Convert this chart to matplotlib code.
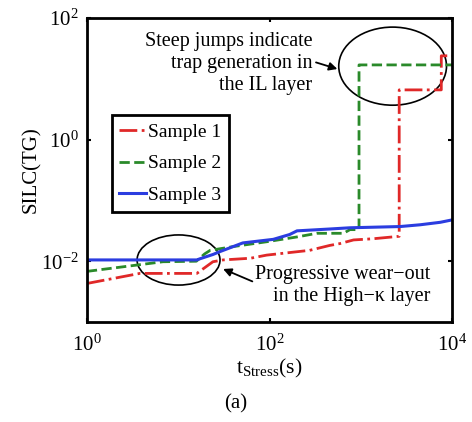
import matplotlib
matplotlib.use("Agg")
import matplotlib.pyplot as plt
from matplotlib.patches import Ellipse

plt.rcParams['font.family'] = ['Liberation Serif', 'DejaVu Serif']
plt.rcParams['mathtext.fontset'] = 'custom'
plt.rcParams['mathtext.rm'] = 'Liberation Serif'
plt.rcParams['mathtext.it'] = 'Liberation Serif:italic'

# Sample 1 (red, dash-dot)
s1_t = [1, 3.8, 16, 24, 31, 62, 93, 182, 275, 457, 589, 832, 1350, 2630, 2630, 7600, 7600, 10000]
s1_v = [0.0043, 0.0063, 0.0063, 0.0098, 0.0105, 0.0112, 0.0126, 0.0141, 0.0151, 0.0182,
        0.0195, 0.0224, 0.0234, 0.0257, 6.6, 6.6, 24, 24]
# Sample 2 (green, dashed)
s2_t = [1, 6.8, 15.8, 19.5, 22.4, 40, 93, 200, 331, 646, 760, 955, 955, 10000]
s2_v = [0.0068, 0.0098, 0.0100, 0.0132, 0.0151, 0.0174, 0.0209, 0.0251, 0.0288, 0.0288,
        0.0331, 0.0331, 17, 17]
# Sample 3 (blue, solid)
s3_t = [1, 16, 17.4, 24, 29, 51, 110, 166, 200, 457, 759, 2690, 4470, 7410, 10000]
s3_v = [0.0105, 0.0105, 0.0110, 0.0129, 0.0145, 0.0200, 0.0229, 0.0275, 0.0316, 0.0339,
        0.0355, 0.0372, 0.0398, 0.0437, 0.0479]

labels = ['Sample 1', 'Sample 2', 'Sample 3']

fig = plt.figure(figsize=(4.72, 4.22), dpi=100)
ax = fig.add_axes([0.184, 0.237, 0.774, 0.72])

ax.plot(s1_t, s1_v, color='#e02828', ls='-.', lw=2, label=labels[0])
ax.plot(s2_t, s2_v, color='#2a8a2a', ls='--', lw=2, label=labels[1])
ax.plot(s3_t, s3_v, color='#2b3de0', ls='-', lw=2.2, label=labels[2])

ax.set_xscale('log')
ax.set_yscale('log')
ax.set_xlim(1, 1e4)
ax.set_ylim(1e-3, 1e2)
ax.set_xticks([1, 1e2, 1e4])
ax.set_xticklabels([r'$\mathregular{10^{0}}$', r'$\mathregular{10^{2}}$', r'$\mathregular{10^{4}}$'])
ax.set_yticks([1e-2, 1, 1e2])
ax.set_yticklabels([r'$\mathregular{10^{-2}}$', r'$\mathregular{10^{0}}$', r'$\mathregular{10^{2}}$'])
ax.minorticks_off()
ax.tick_params(axis='both', which='major', direction='in', length=3, width=1.5,
               top=True, right=True, labelsize=15)
ax.tick_params(axis='x', pad=9)
ax.tick_params(axis='y', pad=6)
for sp in ax.spines.values():
    sp.set_linewidth(2)

ax.set_ylabel('SILC(TG)', fontsize=15, labelpad=0)
ax.set_xlabel(r'$\mathregular{t_{Stress}(s)}$', fontsize=15.5, labelpad=1)
fig.text(0.5, 0.02, '(a)', ha='center', va='bottom', fontsize=15)

leg = ax.legend(loc='upper left', bbox_to_anchor=(0.068, 0.68), fontsize=14,
                handlelength=1.35, handletextpad=0.1, borderpad=0.4, labelspacing=0.72,
                fancybox=False, framealpha=1, edgecolor='black', borderaxespad=0)
leg.get_frame().set_linewidth(2)

# annotations
tr = ax.transAxes
ax.add_patch(Ellipse((0.837, 0.842), 0.295, 0.257, transform=tr, fill=False, ec='black', lw=1.2))
ax.add_patch(Ellipse((0.251, 0.204), 0.227, 0.165, transform=tr, fill=False, ec='black', lw=1.2))

ax.text(0.618, 0.85, 'Steep jumps indicate\ntrap generation in\nthe IL layer', transform=tr,
        ha='right', va='center', fontsize=14.5, linespacing=1.2)
ax.text(0.94, 0.12, 'Progressive wear\u2212out\nin the High\u2212\u03ba layer', transform=tr,
        ha='right', va='center', fontsize=14.5, linespacing=1.2)

ax.annotate('', xy=(0.366, 0.178), xytext=(0.46, 0.13), xycoords=tr, textcoords=tr,
            arrowprops=dict(arrowstyle='-|>', color='black', lw=1.3, mutation_scale=12))
ax.annotate('', xy=(0.693, 0.83), xytext=(0.62, 0.857), xycoords=tr, textcoords=tr,
            arrowprops=dict(arrowstyle='-|>', color='black', lw=1.3, mutation_scale=12))

fig.savefig('out.png', dpi=100)
